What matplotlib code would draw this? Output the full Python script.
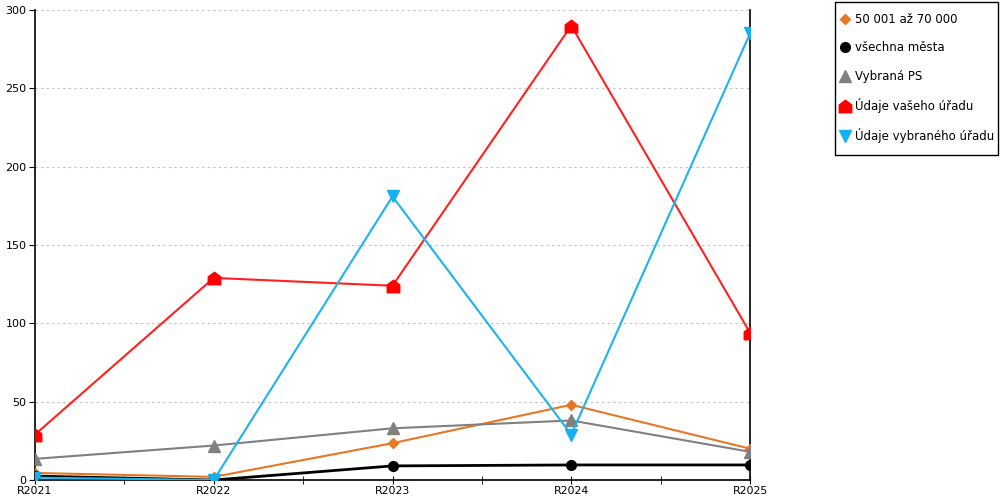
import numpy as np
import matplotlib
matplotlib.use('Agg')
import matplotlib.pyplot as plt
from matplotlib.path import Path
from matplotlib.patches import Rectangle

plt.rcParams['font.family'] = ['DejaVu Sans']

years = ['R2021', 'R2022', 'R2023', 'R2024', 'R2025']

v_50_70 = [4.5, 2, 23.5, 48, 20]
v_all = [2.5, 0, 9, 9.6, 9.6]
v_ps = [13.5, 22, 33, 38, 18]
v_vas = [29, 129, 124, 290, 94]
v_vybr = [1.5, 0, 181, 29, 285]

labels = ['50 001 až 70 000', 'všechna města', 'Vybraná PS',
          'Údaje vašeho úřadu', 'Údaje vybraného úřadu']

# house shaped marker
house = Path([(-1, -1), (1, -1), (1, 0.25), (0, 1), (-1, 0.25), (-1, -1)],
             [Path.MOVETO, Path.LINETO, Path.LINETO, Path.LINETO, Path.LINETO, Path.CLOSEPOLY])

fig = plt.figure(figsize=(10, 5), dpi=100)
ax = fig.add_axes([0.035, 0.04, 0.715, 0.94])

x = np.arange(len(years))

ax.plot(x, v_50_70, color='#E87722', lw=1.5, marker='D', ms=5, label=labels[0], zorder=3)
ax.plot(x, v_all, color='black', lw=2, marker='o', ms=7, label=labels[1], zorder=3)
ax.plot(x, v_ps, color='#808080', lw=1.5, marker='^', ms=8, label=labels[2], zorder=3)
ax.plot(x, v_vas, color='#FF2020', lw=1.5, marker=house, ms=9, mfc='#FF0000', mec='#FF0000', label=labels[3], zorder=3)
ax.plot(x, v_vybr, color='#1CB4EC', lw=1.5, marker='v', ms=9, mfc='#14B0F0', mec='#14B0F0', label=labels[4], zorder=3)

ax.set_xlim(0, 4)
ax.set_ylim(0, 300)
ax.set_yticks(np.arange(0, 301, 50))
ax.set_xticks(x)
ax.set_xticklabels(years)
ax.set_xticks(np.arange(0.5, 4, 0.5), minor=True)
ax.tick_params(axis='x', which='both', direction='inout', length=6, labelsize=7.8, pad=1.2, color='black')
ax.tick_params(axis='y', direction='out', length=4, labelsize=8, pad=2)
ax.grid(axis='y', linestyle=(0, (2, 3)), color='#c0c0c0', lw=0.8)
ax.set_axisbelow(True)

ax.spines['top'].set_visible(False)
for s in ['left', 'bottom', 'right']:
    ax.spines[s].set_color('black')
    ax.spines[s].set_linewidth(1.2)

# legend without own frame, box drawn separately
leg = fig.legend(loc='upper left', bbox_to_anchor=(0.841, 0.974), frameon=False,
                 fontsize=8.5, labelspacing=1.3, handlelength=0.6, handletextpad=0.6,
                 borderpad=0, borderaxespad=0)
for h in leg.legend_handles:
    h.set_linestyle('None')
fig.add_artist(Rectangle((0.835, 0.69), 0.163, 0.306, transform=fig.transFigure,
                         fill=False, edgecolor='black', lw=1))

fig.savefig('out.png', dpi=100)
